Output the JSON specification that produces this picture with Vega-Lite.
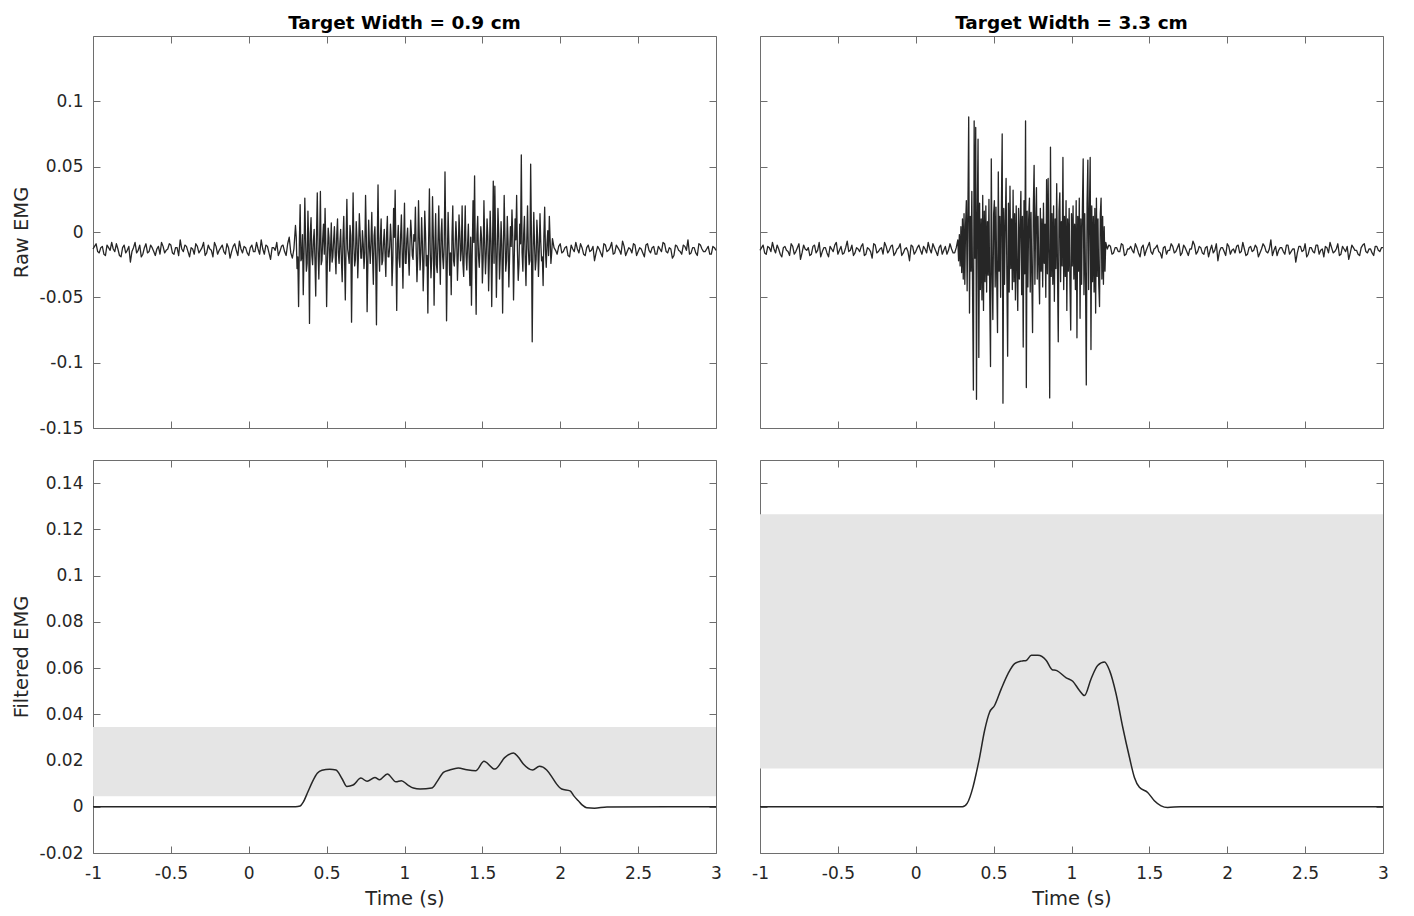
{
"$schema": "https://vega.github.io/schema/vega-lite/v6.json",
"background": "white",
"padding": {"left": 10, "top": 13, "right": 30, "bottom": 5},
"config": {
  "font": "DejaVu Sans",
  "view": {"stroke": "#6e6e6e", "strokeWidth": 1},
  "axis": {"domain": false, "grid": false, "ticks": true, "tickSize": -7, "tickColor": "#6e6e6e", "tickWidth": 1, "labelFont": "DejaVu Sans", "labelFontSize": 17, "labelColor": "#262626", "labelFlush": false, "labelOverlap": false, "titleFont": "DejaVu Sans", "titleFontSize": 19.5, "titleFontWeight": "normal", "titleColor": "#262626", "zindex": 1},
  "title": {"font": "DejaVu Sans", "fontSize": 18.5, "fontWeight": "bold", "color": "#000000", "offset": 3, "frame": "group", "anchor": "middle"}
},
"datasets": {
"ax": [{"t": 0, "v": 0}],
"bandL": [{"x1": -1, "x2": 3, "lo": 0.0045, "hi": 0.0345}],
"bandR": [{"x1": -1, "x2": 3, "lo": 0.0165, "hi": 0.1265}],
"filtL": [{"t":-1,"v":0},{"t":0.3,"v":0},{"t":0.33,"v":0.0003},{"t":0.35,"v":0.002},{"t":0.38,"v":0.0065},{"t":0.41,"v":0.011},{"t":0.44,"v":0.0145},{"t":0.47,"v":0.0158},{"t":0.52,"v":0.0162},{"t":0.56,"v":0.0159},{"t":0.6,"v":0.012},{"t":0.63,"v":0.0088},{"t":0.67,"v":0.0094},{"t":0.72,"v":0.0124},{"t":0.76,"v":0.011},{"t":0.81,"v":0.0127},{"t":0.84,"v":0.0117},{"t":0.89,"v":0.0142},{"t":0.945,"v":0.0108},{"t":0.98,"v":0.0113},{"t":1.02,"v":0.0095},{"t":1.057,"v":0.0081},{"t":1.1,"v":0.0077},{"t":1.175,"v":0.0081},{"t":1.21,"v":0.011},{"t":1.25,"v":0.0149},{"t":1.29,"v":0.0159},{"t":1.345,"v":0.0168},{"t":1.4,"v":0.016},{"t":1.459,"v":0.0156},{"t":1.51,"v":0.0197},{"t":1.58,"v":0.0163},{"t":1.645,"v":0.0214},{"t":1.7,"v":0.0233},{"t":1.73,"v":0.0215},{"t":1.763,"v":0.0185},{"t":1.823,"v":0.0159},{"t":1.866,"v":0.0175},{"t":1.913,"v":0.0159},{"t":1.95,"v":0.0125},{"t":1.977,"v":0.0098},{"t":2.009,"v":0.0077},{"t":2.063,"v":0.0069},{"t":2.09,"v":0.0045},{"t":2.116,"v":0.0026},{"t":2.14,"v":0.0008},{"t":2.17,"v":-0.0004},{"t":2.22,"v":-0.0006},{"t":2.3,"v":-0.0001},{"t":3,"v":0}],
"filtR": [{"t":-1,"v":0},{"t":0.3,"v":0},{"t":0.33,"v":0.0015},{"t":0.367,"v":0.0084},{"t":0.39,"v":0.015},{"t":0.41,"v":0.0214},{"t":0.442,"v":0.033},{"t":0.474,"v":0.0409},{"t":0.506,"v":0.0438},{"t":0.549,"v":0.051},{"t":0.592,"v":0.0575},{"t":0.635,"v":0.0619},{"t":0.678,"v":0.063},{"t":0.71,"v":0.0633},{"t":0.742,"v":0.0655},{"t":0.784,"v":0.0655},{"t":0.838,"v":0.0633},{"t":0.876,"v":0.0593},{"t":0.902,"v":0.059},{"t":0.966,"v":0.0558},{"t":1.008,"v":0.0543},{"t":1.051,"v":0.0503},{"t":1.083,"v":0.0481},{"t":1.126,"v":0.0554},{"t":1.168,"v":0.0611},{"t":1.212,"v":0.0626},{"t":1.244,"v":0.059},{"t":1.286,"v":0.0489},{"t":1.329,"v":0.0344},{"t":1.372,"v":0.0214},{"t":1.404,"v":0.0127},{"t":1.436,"v":0.0084},{"t":1.489,"v":0.0062},{"t":1.532,"v":0.0026},{"t":1.575,"v":0.0004},{"t":1.617,"v":-0.0003},{"t":1.7,"v":0},{"t":3,"v":0}],
"rawL": [
{"t":-1,"v":-0.013},{"t":-0.98,"v":-0.009},{"t":-0.96,"v":-0.016},{"t":-0.94,"v":-0.011},{"t":-0.92,"v":-0.018},{"t":-0.9,"v":-0.012},{"t":-0.88,"v":-0.008},{"t":-0.86,"v":-0.015},{"t":-0.84,"v":-0.013},{"t":-0.82,"v":-0.019},
{"t":-0.8,"v":-0.01},{"t":-0.78,"v":-0.014},{"t":-0.76,"v":-0.023},{"t":-0.74,"v":-0.012},{"t":-0.72,"v":-0.016},{"t":-0.7,"v":-0.01},{"t":-0.68,"v":-0.017},{"t":-0.66,"v":-0.009},{"t":-0.64,"v":-0.015},{"t":-0.62,"v":-0.012},
{"t":-0.6,"v":-0.018},{"t":-0.58,"v":-0.011},{"t":-0.56,"v":-0.008},{"t":-0.54,"v":-0.016},{"t":-0.52,"v":-0.013},{"t":-0.5,"v":-0.01},{"t":-0.48,"v":-0.017},{"t":-0.46,"v":-0.012},{"t":-0.44,"v":-0.006},{"t":-0.42,"v":-0.015},
{"t":-0.4,"v":-0.011},{"t":-0.38,"v":-0.019},{"t":-0.36,"v":-0.013},{"t":-0.34,"v":-0.009},{"t":-0.32,"v":-0.016},{"t":-0.3,"v":-0.012},{"t":-0.28,"v":-0.018},{"t":-0.26,"v":-0.01},{"t":-0.24,"v":-0.014},{"t":-0.22,"v":-0.008},
{"t":-0.2,"v":-0.017},{"t":-0.18,"v":-0.012},{"t":-0.16,"v":-0.015},{"t":-0.14,"v":-0.009},{"t":-0.12,"v":-0.02},{"t":-0.1,"v":-0.011},{"t":-0.08,"v":-0.014},{"t":-0.06,"v":-0.007},{"t":-0.04,"v":-0.016},{"t":-0.02,"v":-0.012},
{"t":0,"v":-0.018},{"t":0.02,"v":-0.01},{"t":0.04,"v":-0.015},{"t":0.06,"v":-0.013},{"t":0.08,"v":-0.006},{"t":0.1,"v":-0.017},{"t":0.12,"v":-0.011},{"t":0.14,"v":-0.021},{"t":0.16,"v":-0.012},{"t":0.18,"v":-0.008},
{"t":0.2,"v":-0.015},{"t":0.22,"v":-0.01},{"t":0.24,"v":-0.018},{"t":0.26,"v":-0.004},{"t":0.28,"v":-0.02},
{"t":0.3,"v":0.005},{"t":0.31,"v":-0.028},{"t":0.32,"v":-0.057},{"t":0.33,"v":0.021},{"t":0.34,"v":-0.02},{"t":0.35,"v":-0.048},{"t":0.36,"v":0.026},{"t":0.37,"v":-0.03},{"t":0.38,"v":0.016},{"t":0.39,"v":-0.07},
{"t":0.4,"v":0.011},{"t":0.41,"v":-0.025},{"t":0.42,"v":0.002},{"t":0.43,"v":-0.049},{"t":0.44,"v":0.03},{"t":0.45,"v":-0.036},{"t":0.46,"v":0.031},{"t":0.47,"v":-0.022},{"t":0.48,"v":0.006},{"t":0.49,"v":0.018},
{"t":0.5,"v":-0.057},{"t":0.51,"v":0.003},{"t":0.52,"v":-0.03},{"t":0.53,"v":0.007},{"t":0.54,"v":-0.019},{"t":0.55,"v":0.004},{"t":0.56,"v":-0.032},{"t":0.57,"v":0.01},{"t":0.58,"v":-0.024},{"t":0.59,"v":0.002},
{"t":0.6,"v":-0.038},{"t":0.61,"v":0.012},{"t":0.62,"v":-0.052},{"t":0.63,"v":0.025},{"t":0.64,"v":-0.018},{"t":0.65,"v":0.005},{"t":0.66,"v":-0.069},{"t":0.67,"v":0.03},{"t":0.68,"v":-0.026},{"t":0.69,"v":0.008},
{"t":0.7,"v":-0.035},{"t":0.71,"v":0.014},{"t":0.72,"v":-0.02},{"t":0.73,"v":0.001},{"t":0.74,"v":-0.028},{"t":0.75,"v":0.028},{"t":0.76,"v":-0.061},{"t":0.77,"v":0.009},{"t":0.78,"v":-0.024},{"t":0.79,"v":0.015},
{"t":0.8,"v":-0.04},{"t":0.81,"v":0.004},{"t":0.82,"v":-0.071},{"t":0.83,"v":0.036},{"t":0.84,"v":-0.03},{"t":0.85,"v":0.01},{"t":0.86,"v":-0.022},{"t":0.87,"v":0.002},{"t":0.88,"v":-0.034},{"t":0.89,"v":0.012},
{"t":0.9,"v":-0.019},{"t":0.91,"v":0.006},{"t":0.92,"v":-0.041},{"t":0.93,"v":0.018},{"t":0.94,"v":0.032},{"t":0.95,"v":-0.06},{"t":0.96,"v":0.005},{"t":0.97,"v":-0.027},{"t":0.98,"v":0.013},{"t":0.99,"v":-0.043},
{"t":1,"v":0.022},{"t":1.01,"v":-0.024},{"t":1.02,"v":0.003},{"t":1.03,"v":-0.033},{"t":1.04,"v":0.009},{"t":1.05,"v":-0.018},{"t":1.06,"v":-0.002},{"t":1.07,"v":0.019},{"t":1.08,"v":-0.038},{"t":1.09,"v":0.024},
{"t":1.1,"v":-0.029},{"t":1.11,"v":0.011},{"t":1.12,"v":-0.045},{"t":1.13,"v":0.016},{"t":1.14,"v":-0.026},{"t":1.15,"v":-0.062},{"t":1.16,"v":0.033},{"t":1.17,"v":-0.035},{"t":1.18,"v":0.027},{"t":1.19,"v":-0.056},
{"t":1.2,"v":0.014},{"t":1.21,"v":-0.031},{"t":1.22,"v":0.02},{"t":1.23,"v":-0.04},{"t":1.24,"v":0.01},{"t":1.25,"v":-0.028},{"t":1.26,"v":0.046},{"t":1.27,"v":-0.068},{"t":1.28,"v":0.015},{"t":1.29,"v":-0.033},
{"t":1.3,"v":-0.048},{"t":1.31,"v":0.02},{"t":1.32,"v":-0.026},{"t":1.33,"v":0.008},{"t":1.34,"v":-0.037},{"t":1.35,"v":0.013},{"t":1.36,"v":-0.022},{"t":1.37,"v":0.02},{"t":1.38,"v":-0.034},{"t":1.39,"v":0.02},
{"t":1.4,"v":-0.029},{"t":1.41,"v":0.006},{"t":1.42,"v":-0.041},{"t":1.43,"v":-0.056},{"t":1.44,"v":0.024},{"t":1.45,"v":0.043},{"t":1.46,"v":-0.063},{"t":1.47,"v":0.012},{"t":1.48,"v":-0.027},{"t":1.49,"v":0.004},
{"t":1.5,"v":-0.039},{"t":1.51,"v":0.024},{"t":1.52,"v":-0.032},{"t":1.53,"v":0.01},{"t":1.54,"v":-0.045},{"t":1.55,"v":0.016},{"t":1.56,"v":-0.057},{"t":1.57,"v":0.039},{"t":1.58,"v":0.035},{"t":1.59,"v":-0.05},
{"t":1.6,"v":0.018},{"t":1.61,"v":-0.036},{"t":1.62,"v":0.008},{"t":1.63,"v":-0.062},{"t":1.64,"v":0.028},{"t":1.65,"v":-0.03},{"t":1.66,"v":0.012},{"t":1.67,"v":-0.042},{"t":1.68,"v":0.004},{"t":1.69,"v":0.017},
{"t":1.7,"v":-0.052},{"t":1.71,"v":0.01},{"t":1.72,"v":0.028},{"t":1.73,"v":-0.037},{"t":1.74,"v":0.006},{"t":1.75,"v":0.059},{"t":1.76,"v":-0.03},{"t":1.77,"v":0.012},{"t":1.78,"v":-0.041},{"t":1.79,"v":0.02},
{"t":1.8,"v":-0.025},{"t":1.81,"v":0.052},{"t":1.82,"v":-0.084},{"t":1.83,"v":0.015},{"t":1.84,"v":-0.029},{"t":1.85,"v":0.009},{"t":1.86,"v":-0.034},{"t":1.87,"v":0.014},{"t":1.88,"v":-0.022},{"t":1.89,"v":-0.041},
{"t":1.9,"v":0.019},{"t":1.91,"v":-0.027},{"t":1.92,"v":0.001},{"t":1.93,"v":0.012},{"t":1.94,"v":-0.024},{"t":1.95,"v":-0.005},
{"t":1.96,"v":-0.012},{"t":1.98,"v":-0.017},{"t":2,"v":-0.009},{"t":2.02,"v":-0.015},{"t":2.04,"v":-0.011},{"t":2.06,"v":-0.019},{"t":2.08,"v":-0.013},{"t":2.1,"v":-0.008},{"t":2.12,"v":-0.016},{"t":2.14,"v":-0.012},
{"t":2.16,"v":-0.018},{"t":2.18,"v":-0.01},{"t":2.2,"v":-0.014},{"t":2.22,"v":-0.022},{"t":2.24,"v":-0.011},{"t":2.26,"v":-0.016},{"t":2.28,"v":-0.009},{"t":2.3,"v":-0.015},{"t":2.32,"v":-0.012},{"t":2.34,"v":-0.017},
{"t":2.36,"v":-0.01},{"t":2.38,"v":-0.014},{"t":2.4,"v":-0.007},{"t":2.42,"v":-0.018},{"t":2.44,"v":-0.012},{"t":2.46,"v":-0.016},{"t":2.48,"v":-0.01},{"t":2.5,"v":-0.015},{"t":2.52,"v":-0.013},{"t":2.54,"v":-0.019},
{"t":2.56,"v":-0.009},{"t":2.58,"v":-0.016},{"t":2.6,"v":-0.011},{"t":2.62,"v":-0.017},{"t":2.64,"v":-0.013},{"t":2.66,"v":-0.008},{"t":2.68,"v":-0.015},{"t":2.7,"v":-0.012},{"t":2.72,"v":-0.02},{"t":2.74,"v":-0.01},
{"t":2.76,"v":-0.014},{"t":2.78,"v":-0.017},{"t":2.8,"v":-0.011},{"t":2.82,"v":-0.006},{"t":2.84,"v":-0.016},{"t":2.86,"v":-0.012},{"t":2.88,"v":-0.018},{"t":2.9,"v":-0.01},{"t":2.92,"v":-0.015},{"t":2.94,"v":-0.013},
{"t":2.96,"v":-0.017},{"t":2.98,"v":-0.011},{"t":3,"v":-0.014},
{"t":-0.99,"v":-0.011},{"t":-0.97,"v":-0.015},{"t":-0.95,"v":-0.012},{"t":-0.93,"v":-0.017},{"t":-0.91,"v":-0.01},{"t":-0.89,"v":-0.014},{"t":-0.87,"v":-0.013},{"t":-0.85,"v":-0.009},{"t":-0.83,"v":-0.018},{"t":-0.81,"v":-0.012},
{"t":-0.79,"v":-0.016},{"t":-0.77,"v":-0.011},{"t":-0.75,"v":-0.015},{"t":-0.73,"v":-0.008},{"t":-0.71,"v":-0.014},{"t":-0.69,"v":-0.019},{"t":-0.67,"v":-0.012},{"t":-0.65,"v":-0.016},{"t":-0.63,"v":-0.01},{"t":-0.61,"v":-0.015},
{"t":-0.59,"v":-0.013},{"t":-0.57,"v":-0.017},{"t":-0.55,"v":-0.011},{"t":-0.53,"v":-0.014},{"t":-0.51,"v":-0.009},{"t":-0.49,"v":-0.016},{"t":-0.47,"v":-0.012},{"t":-0.45,"v":-0.018},{"t":-0.43,"v":-0.013},{"t":-0.41,"v":-0.01},
{"t":-0.39,"v":-0.015},{"t":-0.37,"v":-0.012},{"t":-0.35,"v":-0.017},{"t":-0.33,"v":-0.011},{"t":-0.31,"v":-0.014},{"t":-0.29,"v":-0.008},{"t":-0.27,"v":-0.016},{"t":-0.25,"v":-0.013},{"t":-0.23,"v":-0.019},{"t":-0.21,"v":-0.011},
{"t":-0.19,"v":-0.014},{"t":-0.17,"v":-0.01},{"t":-0.15,"v":-0.017},{"t":-0.13,"v":-0.012},{"t":-0.11,"v":-0.015},{"t":-0.09,"v":-0.009},{"t":-0.07,"v":-0.018},{"t":-0.05,"v":-0.013},{"t":-0.03,"v":-0.011},{"t":-0.01,"v":-0.016},
{"t":0.01,"v":-0.012},{"t":0.03,"v":-0.015},{"t":0.05,"v":-0.008},{"t":0.07,"v":-0.017},{"t":0.09,"v":-0.013},{"t":0.11,"v":-0.01},{"t":0.13,"v":-0.016},{"t":0.15,"v":-0.012},{"t":0.17,"v":-0.014},{"t":0.19,"v":-0.018},
{"t":0.21,"v":-0.011},{"t":0.23,"v":-0.015},{"t":0.25,"v":-0.009},{"t":0.27,"v":-0.016},{"t":0.29,"v":-0.013},
{"t":0.305,"v":-0.004},{"t":0.315,"v":-0.019},{"t":0.325,"v":-0.008},{"t":0.335,"v":-0.022},{"t":0.345,"v":-0.002},{"t":0.355,"v":-0.016},{"t":0.365,"v":-0.006},{"t":0.375,"v":-0.024},{"t":0.385,"v":-0.01},{"t":0.395,"v":-0.001},
{"t":0.405,"v":-0.018},{"t":0.415,"v":-0.007},{"t":0.425,"v":-0.021},{"t":0.435,"v":-0.003},{"t":0.445,"v":-0.015},{"t":0.455,"v":-0.009},{"t":0.465,"v":-0.025},{"t":0.475,"v":-0.005},{"t":0.485,"v":-0.017},{"t":0.495,"v":-0.011},
{"t":0.505,"v":-0.02},{"t":0.515,"v":-0.004},{"t":0.525,"v":-0.014},{"t":0.535,"v":-0.023},{"t":0.545,"v":-0.006},{"t":0.555,"v":-0.018},{"t":0.565,"v":-0.002},{"t":0.575,"v":-0.016},{"t":0.585,"v":-0.009},{"t":0.595,"v":-0.022},
{"t":0.605,"v":-0.005},{"t":0.615,"v":-0.019},{"t":0.625,"v":-0.008},{"t":0.635,"v":-0.013},{"t":0.645,"v":-0.024},{"t":0.655,"v":-0.003},{"t":0.665,"v":-0.017},{"t":0.675,"v":-0.01},{"t":0.685,"v":-0.021},{"t":0.695,"v":-0.006},
{"t":0.705,"v":-0.015},{"t":0.715,"v":-0.001},{"t":0.725,"v":-0.02},{"t":0.735,"v":-0.009},{"t":0.745,"v":-0.016},{"t":0.755,"v":-0.004},{"t":0.765,"v":-0.023},{"t":0.775,"v":-0.011},{"t":0.785,"v":-0.007},{"t":0.795,"v":-0.018},
{"t":0.805,"v":-0.003},{"t":0.815,"v":-0.021},{"t":0.825,"v":-0.01},{"t":0.835,"v":-0.014},{"t":0.845,"v":-0.005},{"t":0.855,"v":-0.025},{"t":0.865,"v":-0.008},{"t":0.875,"v":-0.017},{"t":0.885,"v":-0.002},{"t":0.895,"v":-0.019},
{"t":0.905,"v":-0.011},{"t":0.915,"v":-0.006},{"t":0.925,"v":-0.022},{"t":0.935,"v":-0.004},{"t":0.945,"v":-0.016},{"t":0.955,"v":-0.009},{"t":0.965,"v":-0.02},{"t":0.975,"v":-0.003},{"t":0.985,"v":-0.015},{"t":0.995,"v":-0.008},
{"t":1.005,"v":-0.024},{"t":1.015,"v":-0.005},{"t":1.025,"v":-0.017},{"t":1.035,"v":-0.01},{"t":1.045,"v":-0.002},{"t":1.055,"v":-0.021},{"t":1.065,"v":-0.007},{"t":1.075,"v":-0.013},{"t":1.085,"v":-0.019},{"t":1.095,"v":-0.004},
{"t":1.105,"v":-0.016},{"t":1.115,"v":-0.009},{"t":1.125,"v":-0.023},{"t":1.135,"v":-0.001},{"t":1.145,"v":-0.018},{"t":1.155,"v":-0.006},{"t":1.165,"v":-0.014},{"t":1.175,"v":-0.02},{"t":1.185,"v":-0.003},{"t":1.195,"v":-0.012},
{"t":1.205,"v":-0.025},{"t":1.215,"v":-0.007},{"t":1.225,"v":-0.015},{"t":1.235,"v":-0.002},{"t":1.245,"v":-0.019},{"t":1.255,"v":-0.01},{"t":1.265,"v":-0.005},{"t":1.275,"v":-0.021},{"t":1.285,"v":-0.008},{"t":1.295,"v":-0.016},
{"t":1.305,"v":-0.003},{"t":1.315,"v":-0.022},{"t":1.325,"v":-0.011},{"t":1.335,"v":-0.006},{"t":1.345,"v":-0.018},{"t":1.355,"v":-0.001},{"t":1.365,"v":-0.014},{"t":1.375,"v":-0.024},{"t":1.385,"v":-0.007},{"t":1.395,"v":-0.017},
{"t":1.405,"v":-0.01},{"t":1.415,"v":-0.02},{"t":1.425,"v":-0.004},{"t":1.435,"v":-0.015},{"t":1.445,"v":-0.008},{"t":1.455,"v":-0.023},{"t":1.465,"v":-0.002},{"t":1.475,"v":-0.018},{"t":1.485,"v":-0.012},{"t":1.495,"v":-0.005},
{"t":1.505,"v":-0.021},{"t":1.515,"v":-0.009},{"t":1.525,"v":-0.016},{"t":1.535,"v":-0.003},{"t":1.545,"v":-0.019},{"t":1.555,"v":-0.007},{"t":1.565,"v":-0.013},{"t":1.575,"v":-0.024},{"t":1.585,"v":-0.006},{"t":1.595,"v":-0.017},
{"t":1.605,"v":-0.001},{"t":1.615,"v":-0.02},{"t":1.625,"v":-0.01},{"t":1.635,"v":-0.015},{"t":1.645,"v":-0.004},{"t":1.655,"v":-0.022},{"t":1.665,"v":-0.008},{"t":1.675,"v":-0.018},{"t":1.685,"v":-0.011},{"t":1.695,"v":-0.003},
{"t":1.705,"v":-0.019},{"t":1.715,"v":-0.006},{"t":1.725,"v":-0.014},{"t":1.735,"v":-0.025},{"t":1.745,"v":-0.009},{"t":1.755,"v":-0.016},{"t":1.765,"v":-0.002},{"t":1.775,"v":-0.02},{"t":1.785,"v":-0.007},{"t":1.795,"v":-0.013},
{"t":1.805,"v":-0.022},{"t":1.815,"v":-0.004},{"t":1.825,"v":-0.017},{"t":1.835,"v":-0.01},{"t":1.845,"v":-0.021},{"t":1.855,"v":-0.005},{"t":1.865,"v":-0.015},{"t":1.875,"v":-0.008},{"t":1.885,"v":-0.019},{"t":1.895,"v":-0.003},
{"t":1.905,"v":-0.014},{"t":1.915,"v":-0.009},{"t":1.925,"v":-0.018},{"t":1.935,"v":-0.006},{"t":1.945,"v":-0.016},
{"t":1.97,"v":-0.014},{"t":1.99,"v":-0.011},{"t":2.01,"v":-0.016},{"t":2.03,"v":-0.012},{"t":2.05,"v":-0.018},{"t":2.07,"v":-0.01},{"t":2.09,"v":-0.015},{"t":2.11,"v":-0.013},{"t":2.13,"v":-0.009},{"t":2.15,"v":-0.017},
{"t":2.17,"v":-0.012},{"t":2.19,"v":-0.015},{"t":2.21,"v":-0.011},{"t":2.23,"v":-0.016},{"t":2.25,"v":-0.013},{"t":2.27,"v":-0.019},{"t":2.29,"v":-0.01},{"t":2.31,"v":-0.014},{"t":2.33,"v":-0.008},{"t":2.35,"v":-0.016},
{"t":2.37,"v":-0.012},{"t":2.39,"v":-0.017},{"t":2.41,"v":-0.011},{"t":2.43,"v":-0.015},{"t":2.45,"v":-0.013},{"t":2.47,"v":-0.009},{"t":2.49,"v":-0.018},{"t":2.51,"v":-0.012},{"t":2.53,"v":-0.016},{"t":2.55,"v":-0.01},
{"t":2.57,"v":-0.014},{"t":2.59,"v":-0.012},{"t":2.61,"v":-0.017},{"t":2.63,"v":-0.011},{"t":2.65,"v":-0.015},{"t":2.67,"v":-0.009},{"t":2.69,"v":-0.016},{"t":2.71,"v":-0.013},{"t":2.73,"v":-0.018},{"t":2.75,"v":-0.011},
{"t":2.77,"v":-0.015},{"t":2.79,"v":-0.01},{"t":2.81,"v":-0.014},{"t":2.83,"v":-0.017},{"t":2.85,"v":-0.012},{"t":2.87,"v":-0.016},{"t":2.89,"v":-0.009},{"t":2.91,"v":-0.013},{"t":2.93,"v":-0.015},{"t":2.95,"v":-0.011},
{"t":2.97,"v":-0.017},{"t":2.99,"v":-0.012}
],
"rawR": [
{"t":-1,"v":-0.014},{"t":-0.98,"v":-0.01},{"t":-0.96,"v":-0.017},{"t":-0.94,"v":-0.012},{"t":-0.92,"v":-0.008},{"t":-0.9,"v":-0.016},{"t":-0.88,"v":-0.013},{"t":-0.86,"v":-0.019},{"t":-0.84,"v":-0.011},{"t":-0.82,"v":-0.015},
{"t":-0.8,"v":-0.009},{"t":-0.78,"v":-0.017},{"t":-0.76,"v":-0.012},{"t":-0.74,"v":-0.021},{"t":-0.72,"v":-0.01},{"t":-0.7,"v":-0.014},{"t":-0.68,"v":-0.018},{"t":-0.66,"v":-0.011},{"t":-0.64,"v":-0.016},{"t":-0.62,"v":-0.008},
{"t":-0.6,"v":-0.015},{"t":-0.58,"v":-0.012},{"t":-0.56,"v":-0.019},{"t":-0.54,"v":-0.013},{"t":-0.52,"v":-0.01},{"t":-0.5,"v":-0.017},{"t":-0.48,"v":-0.011},{"t":-0.46,"v":-0.016},{"t":-0.44,"v":-0.007},{"t":-0.42,"v":-0.014},
{"t":-0.4,"v":-0.018},{"t":-0.38,"v":-0.012},{"t":-0.36,"v":-0.015},{"t":-0.34,"v":-0.009},{"t":-0.32,"v":-0.017},{"t":-0.3,"v":-0.013},{"t":-0.28,"v":-0.02},{"t":-0.26,"v":-0.01},{"t":-0.24,"v":-0.015},{"t":-0.22,"v":-0.012},
{"t":-0.2,"v":-0.008},{"t":-0.18,"v":-0.016},{"t":-0.16,"v":-0.011},{"t":-0.14,"v":-0.018},{"t":-0.12,"v":-0.013},{"t":-0.1,"v":-0.009},{"t":-0.08,"v":-0.016},{"t":-0.06,"v":-0.012},{"t":-0.04,"v":-0.022},{"t":-0.02,"v":-0.011},
{"t":0,"v":-0.015},{"t":0.02,"v":-0.01},{"t":0.04,"v":-0.017},{"t":0.06,"v":-0.013},{"t":0.08,"v":-0.008},{"t":0.1,"v":-0.016},{"t":0.12,"v":-0.012},{"t":0.14,"v":-0.018},{"t":0.16,"v":-0.01},{"t":0.18,"v":-0.014},
{"t":0.2,"v":-0.017},{"t":0.22,"v":-0.009},{"t":0.24,"v":-0.016},{"t":0.26,"v":-0.012},
{"t":0.27,"v":-0.006},{"t":0.275,"v":-0.022},{"t":0.28,"v":-0.002},{"t":0.285,"v":-0.026},{"t":0.29,"v":0.004},{"t":0.295,"v":-0.031},{"t":0.3,"v":0.01},{"t":0.305,"v":-0.036},{"t":0.31,"v":0.014},{"t":0.315,"v":-0.04},
{"t":0.32,"v":0.006},{"t":0.325,"v":0.024},{"t":0.33,"v":-0.045},{"t":0.335,"v":0.018},{"t":0.34,"v":0.088},{"t":0.345,"v":-0.062},{"t":0.35,"v":0.012},{"t":0.355,"v":-0.03},{"t":0.36,"v":0.031},{"t":0.365,"v":-0.048},
{"t":0.37,"v":-0.121},{"t":0.375,"v":0.085},{"t":0.38,"v":-0.02},{"t":0.385,"v":0.08},{"t":0.39,"v":-0.128},{"t":0.395,"v":0.015},{"t":0.4,"v":0.071},{"t":0.405,"v":-0.096},{"t":0.41,"v":0.022},{"t":0.415,"v":-0.044},
{"t":0.42,"v":0.01},{"t":0.425,"v":-0.052},{"t":0.43,"v":0.028},{"t":0.435,"v":-0.06},{"t":0.44,"v":0.016},{"t":0.445,"v":-0.038},{"t":0.45,"v":0.02},{"t":0.455,"v":-0.046},{"t":0.46,"v":0.008},{"t":0.465,"v":-0.033},
{"t":0.47,"v":0.025},{"t":0.475,"v":-0.05},{"t":0.48,"v":-0.103},{"t":0.485,"v":0.056},{"t":0.49,"v":-0.028},{"t":0.495,"v":-0.067},{"t":0.5,"v":0.014},{"t":0.505,"v":0.024},{"t":0.51,"v":-0.042},{"t":0.515,"v":0.019},
{"t":0.52,"v":-0.036},{"t":0.525,"v":-0.077},{"t":0.53,"v":0.046},{"t":0.535,"v":-0.03},{"t":0.54,"v":0.012},{"t":0.545,"v":-0.05},{"t":0.55,"v":0.02},{"t":0.555,"v":0.075},{"t":0.56,"v":-0.131},{"t":0.565,"v":0.018},
{"t":0.57,"v":-0.04},{"t":0.575,"v":0.009},{"t":0.58,"v":0.041},{"t":0.585,"v":-0.034},{"t":0.59,"v":-0.095},{"t":0.595,"v":0.022},{"t":0.6,"v":-0.046},{"t":0.605,"v":0.035},{"t":0.61,"v":-0.028},{"t":0.615,"v":0.01},
{"t":0.62,"v":-0.044},{"t":0.625,"v":0.032},{"t":0.63,"v":-0.038},{"t":0.635,"v":0.014},{"t":0.64,"v":-0.052},{"t":0.645,"v":0.02},{"t":0.65,"v":-0.03},{"t":0.655,"v":-0.06},{"t":0.66,"v":0.018},{"t":0.665,"v":-0.036},
{"t":0.67,"v":0.006},{"t":0.675,"v":0.031},{"t":0.68,"v":-0.048},{"t":0.685,"v":0.012},{"t":0.69,"v":-0.088},{"t":0.695,"v":0.024},{"t":0.7,"v":-0.032},{"t":0.705,"v":0.085},{"t":0.71,"v":-0.119},{"t":0.715,"v":0.016},
{"t":0.72,"v":-0.042},{"t":0.725,"v":0.01},{"t":0.73,"v":0.026},{"t":0.735,"v":-0.046},{"t":0.74,"v":0.015},{"t":0.745,"v":-0.034},{"t":0.75,"v":-0.077},{"t":0.755,"v":0.02},{"t":0.76,"v":0.051},{"t":0.765,"v":-0.04},
{"t":0.77,"v":0.008},{"t":0.775,"v":0.034},{"t":0.78,"v":-0.036},{"t":0.785,"v":0.012},{"t":0.79,"v":-0.028},{"t":0.795,"v":-0.055},{"t":0.8,"v":0.018},{"t":0.805,"v":-0.03},{"t":0.81,"v":0.01},{"t":0.815,"v":-0.042},
{"t":0.82,"v":0.022},{"t":0.825,"v":-0.024},{"t":0.83,"v":0.006},{"t":0.835,"v":-0.05},{"t":0.84,"v":0.04},{"t":0.845,"v":-0.032},{"t":0.85,"v":0.041},{"t":0.855,"v":-0.02},{"t":0.86,"v":-0.127},{"t":0.865,"v":0.065},
{"t":0.87,"v":-0.034},{"t":0.875,"v":0.014},{"t":0.88,"v":-0.04},{"t":0.885,"v":0.02},{"t":0.89,"v":-0.053},{"t":0.895,"v":0.01},{"t":0.9,"v":-0.028},{"t":0.905,"v":0.037},{"t":0.91,"v":-0.03},{"t":0.915,"v":-0.084},
{"t":0.92,"v":0.016},{"t":0.925,"v":0.03},{"t":0.93,"v":-0.038},{"t":0.935,"v":0.008},{"t":0.94,"v":-0.026},{"t":0.945,"v":0.057},{"t":0.95,"v":-0.044},{"t":0.955,"v":0.012},{"t":0.96,"v":-0.034},{"t":0.965,"v":0.024},
{"t":0.97,"v":-0.06},{"t":0.975,"v":0.01},{"t":0.98,"v":-0.03},{"t":0.985,"v":0.018},{"t":0.99,"v":-0.04},{"t":0.995,"v":-0.075},{"t":1,"v":0.014},{"t":1.005,"v":-0.026},{"t":1.01,"v":0.02},{"t":1.015,"v":-0.036},
{"t":1.02,"v":0.006},{"t":1.025,"v":-0.044},{"t":1.03,"v":0.024},{"t":1.035,"v":-0.081},{"t":1.04,"v":0.012},{"t":1.045,"v":-0.03},{"t":1.05,"v":0.026},{"t":1.055,"v":-0.066},{"t":1.06,"v":0.01},{"t":1.065,"v":-0.04},
{"t":1.07,"v":0.018},{"t":1.075,"v":0.056},{"t":1.08,"v":-0.048},{"t":1.085,"v":0.014},{"t":1.09,"v":-0.036},{"t":1.095,"v":-0.117},{"t":1.1,"v":0.022},{"t":1.105,"v":0.055},{"t":1.11,"v":-0.044},{"t":1.115,"v":0.016},
{"t":1.12,"v":0.057},{"t":1.125,"v":-0.09},{"t":1.13,"v":0.02},{"t":1.135,"v":-0.038},{"t":1.14,"v":0.012},{"t":1.145,"v":-0.046},{"t":1.15,"v":0.018},{"t":1.155,"v":-0.062},{"t":1.16,"v":0.026},{"t":1.165,"v":-0.034},
{"t":1.17,"v":0.01},{"t":1.175,"v":-0.04},{"t":1.18,"v":-0.057},{"t":1.185,"v":0.014},{"t":1.19,"v":0.026},{"t":1.195,"v":-0.036},{"t":1.2,"v":0.012},{"t":1.205,"v":-0.04},{"t":1.21,"v":0.004},{"t":1.215,"v":-0.03},
{"t":1.22,"v":-0.008},
{"t":1.24,"v":-0.01},{"t":1.26,"v":-0.017},{"t":1.28,"v":-0.012},{"t":1.3,"v":-0.015},{"t":1.32,"v":-0.009},{"t":1.34,"v":-0.018},{"t":1.36,"v":-0.013},{"t":1.38,"v":-0.011},{"t":1.4,"v":-0.016},{"t":1.42,"v":-0.012},
{"t":1.44,"v":-0.019},{"t":1.46,"v":-0.01},{"t":1.48,"v":-0.014},{"t":1.5,"v":-0.008},{"t":1.52,"v":-0.017},{"t":1.54,"v":-0.012},{"t":1.56,"v":-0.015},{"t":1.58,"v":-0.02},{"t":1.6,"v":-0.011},{"t":1.62,"v":-0.014},
{"t":1.64,"v":-0.009},{"t":1.66,"v":-0.016},{"t":1.68,"v":-0.012},{"t":1.7,"v":-0.018},{"t":1.72,"v":-0.01},{"t":1.74,"v":-0.015},{"t":1.76,"v":-0.013},{"t":1.78,"v":-0.007},{"t":1.8,"v":-0.017},{"t":1.82,"v":-0.011},
{"t":1.84,"v":-0.016},{"t":1.86,"v":-0.012},{"t":1.88,"v":-0.019},{"t":1.9,"v":-0.01},{"t":1.92,"v":-0.014},{"t":1.94,"v":-0.022},{"t":1.96,"v":-0.012},{"t":1.98,"v":-0.015},{"t":2,"v":-0.009},{"t":2.02,"v":-0.017},
{"t":2.04,"v":-0.013},{"t":2.06,"v":-0.011},{"t":2.08,"v":-0.016},{"t":2.1,"v":-0.008},{"t":2.12,"v":-0.018},{"t":2.14,"v":-0.012},{"t":2.16,"v":-0.015},{"t":2.18,"v":-0.01},{"t":2.2,"v":-0.019},{"t":2.22,"v":-0.013},
{"t":2.24,"v":-0.011},{"t":2.26,"v":-0.016},{"t":2.28,"v":-0.006},{"t":2.3,"v":-0.014},{"t":2.32,"v":-0.018},{"t":2.34,"v":-0.012},{"t":2.36,"v":-0.015},{"t":2.38,"v":-0.01},{"t":2.4,"v":-0.017},{"t":2.42,"v":-0.013},
{"t":2.44,"v":-0.023},{"t":2.46,"v":-0.011},{"t":2.48,"v":-0.015},{"t":2.5,"v":-0.009},{"t":2.52,"v":-0.017},{"t":2.54,"v":-0.012},{"t":2.56,"v":-0.016},{"t":2.58,"v":-0.01},{"t":2.6,"v":-0.014},{"t":2.62,"v":-0.019},
{"t":2.64,"v":-0.012},{"t":2.66,"v":-0.008},{"t":2.68,"v":-0.016},{"t":2.7,"v":-0.013},{"t":2.72,"v":-0.018},{"t":2.74,"v":-0.011},{"t":2.76,"v":-0.015},{"t":2.78,"v":-0.021},{"t":2.8,"v":-0.01},{"t":2.82,"v":-0.014},
{"t":2.84,"v":-0.017},{"t":2.86,"v":-0.012},{"t":2.88,"v":-0.009},{"t":2.9,"v":-0.016},{"t":2.92,"v":-0.013},{"t":2.94,"v":-0.018},{"t":2.96,"v":-0.011},{"t":2.98,"v":-0.015},{"t":3,"v":-0.012},
{"t":-0.99,"v":-0.012},{"t":-0.97,"v":-0.016},{"t":-0.95,"v":-0.011},{"t":-0.93,"v":-0.015},{"t":-0.91,"v":-0.013},{"t":-0.89,"v":-0.01},{"t":-0.87,"v":-0.017},{"t":-0.85,"v":-0.012},{"t":-0.83,"v":-0.014},{"t":-0.81,"v":-0.018},
{"t":-0.79,"v":-0.011},{"t":-0.77,"v":-0.015},{"t":-0.75,"v":-0.009},{"t":-0.73,"v":-0.016},{"t":-0.71,"v":-0.013},{"t":-0.69,"v":-0.012},{"t":-0.67,"v":-0.017},{"t":-0.65,"v":-0.01},{"t":-0.63,"v":-0.014},{"t":-0.61,"v":-0.019},
{"t":-0.59,"v":-0.012},{"t":-0.57,"v":-0.016},{"t":-0.55,"v":-0.011},{"t":-0.53,"v":-0.015},{"t":-0.51,"v":-0.008},{"t":-0.49,"v":-0.014},{"t":-0.47,"v":-0.017},{"t":-0.45,"v":-0.012},{"t":-0.43,"v":-0.015},{"t":-0.41,"v":-0.01},
{"t":-0.39,"v":-0.016},{"t":-0.37,"v":-0.013},{"t":-0.35,"v":-0.011},{"t":-0.33,"v":-0.018},{"t":-0.31,"v":-0.012},{"t":-0.29,"v":-0.015},{"t":-0.27,"v":-0.009},{"t":-0.25,"v":-0.016},{"t":-0.23,"v":-0.013},{"t":-0.21,"v":-0.017},
{"t":-0.19,"v":-0.011},{"t":-0.17,"v":-0.014},{"t":-0.15,"v":-0.01},{"t":-0.13,"v":-0.016},{"t":-0.11,"v":-0.012},{"t":-0.09,"v":-0.018},{"t":-0.07,"v":-0.013},{"t":-0.05,"v":-0.015},{"t":-0.03,"v":-0.01},{"t":-0.01,"v":-0.017},
{"t":0.01,"v":-0.012},{"t":0.03,"v":-0.014},{"t":0.05,"v":-0.011},{"t":0.07,"v":-0.016},{"t":0.09,"v":-0.013},{"t":0.11,"v":-0.009},{"t":0.13,"v":-0.015},{"t":0.15,"v":-0.012},{"t":0.17,"v":-0.017},{"t":0.19,"v":-0.011},
{"t":0.21,"v":-0.014},{"t":0.23,"v":-0.013},{"t":0.25,"v":-0.016},
{"t":1.23,"v":-0.013},{"t":1.25,"v":-0.011},{"t":1.27,"v":-0.016},{"t":1.29,"v":-0.012},{"t":1.31,"v":-0.015},{"t":1.33,"v":-0.01},{"t":1.35,"v":-0.017},{"t":1.37,"v":-0.013},{"t":1.39,"v":-0.014},{"t":1.41,"v":-0.009},
{"t":1.43,"v":-0.016},{"t":1.45,"v":-0.012},{"t":1.47,"v":-0.018},{"t":1.49,"v":-0.011},{"t":1.51,"v":-0.015},{"t":1.53,"v":-0.013},{"t":1.55,"v":-0.01},{"t":1.57,"v":-0.016},{"t":1.59,"v":-0.012},{"t":1.61,"v":-0.017},
{"t":1.63,"v":-0.014},{"t":1.65,"v":-0.011},{"t":1.67,"v":-0.015},{"t":1.69,"v":-0.009},{"t":1.71,"v":-0.016},{"t":1.73,"v":-0.012},{"t":1.75,"v":-0.018},{"t":1.77,"v":-0.013},{"t":1.79,"v":-0.01},{"t":1.81,"v":-0.015},
{"t":1.83,"v":-0.012},{"t":1.85,"v":-0.017},{"t":1.87,"v":-0.011},{"t":1.89,"v":-0.014},{"t":1.91,"v":-0.016},{"t":1.93,"v":-0.009},{"t":1.95,"v":-0.015},{"t":1.97,"v":-0.012},{"t":1.99,"v":-0.018},{"t":2.01,"v":-0.011},
{"t":2.03,"v":-0.014},{"t":2.05,"v":-0.016},{"t":2.07,"v":-0.01},{"t":2.09,"v":-0.015},{"t":2.11,"v":-0.013},{"t":2.13,"v":-0.017},{"t":2.15,"v":-0.011},{"t":2.17,"v":-0.014},{"t":2.19,"v":-0.012},{"t":2.21,"v":-0.016},
{"t":2.23,"v":-0.009},{"t":2.25,"v":-0.015},{"t":2.27,"v":-0.013},{"t":2.29,"v":-0.018},{"t":2.31,"v":-0.011},{"t":2.33,"v":-0.014},{"t":2.35,"v":-0.012},{"t":2.37,"v":-0.017},{"t":2.39,"v":-0.01},{"t":2.41,"v":-0.015},
{"t":2.43,"v":-0.013},{"t":2.45,"v":-0.016},{"t":2.47,"v":-0.011},{"t":2.49,"v":-0.014},{"t":2.51,"v":-0.019},{"t":2.53,"v":-0.012},{"t":2.55,"v":-0.015},{"t":2.57,"v":-0.01},{"t":2.59,"v":-0.017},{"t":2.61,"v":-0.013},
{"t":2.63,"v":-0.011},{"t":2.65,"v":-0.016},{"t":2.67,"v":-0.012},{"t":2.69,"v":-0.015},{"t":2.71,"v":-0.009},{"t":2.73,"v":-0.017},{"t":2.75,"v":-0.013},{"t":2.77,"v":-0.011},{"t":2.79,"v":-0.016},{"t":2.81,"v":-0.012},
{"t":2.83,"v":-0.014},{"t":2.85,"v":-0.018},{"t":2.87,"v":-0.01},{"t":2.89,"v":-0.015},{"t":2.91,"v":-0.013},{"t":2.93,"v":-0.016},{"t":2.95,"v":-0.011},{"t":2.97,"v":-0.014},{"t":2.99,"v":-0.012}
]
},
"columns": 2,
"spacing": {"row": 32, "column": 44},
"bounds": "flush",
"concat": [
{
 "width": 623, "height": 392,
 "title": "Target Width = 0.9 cm",
 "layer": [
  {"data": {"name": "rawL"}, "mark": {"type": "line", "color": "#262626", "strokeWidth": 1.3, "strokeJoin": "round"},
   "encoding": {
    "x": {"field": "t", "type": "quantitative", "scale": {"domain": [-1, 3], "nice": false, "zero": false}, "axis": {"orient": "bottom", "labels": false, "title": null, "values": [-1,-0.5,0,0.5,1,1.5,2,2.5,3]}},
    "y": {"field": "v", "type": "quantitative", "scale": {"domain": [-0.15, 0.15], "nice": false, "zero": false}, "axis": {"orient": "left", "title": "Raw EMG", "values": [-0.15,-0.1,-0.05,0,0.05,0.1], "labelExpr": "'' + datum.value", "labelPadding": 17, "titlePadding": 8}}
   }},
  {"data": {"name": "ax"}, "mark": {"type": "point", "opacity": 0},
   "encoding": {
    "x": {"field": "t", "type": "quantitative", "axis": {"orient": "top", "labels": false, "title": null, "values": [-1,-0.5,0,0.5,1,1.5,2,2.5,3]}},
    "y": {"field": "v", "type": "quantitative", "axis": {"orient": "right", "labels": false, "title": null, "values": [-0.15,-0.1,-0.05,0,0.05,0.1]}}
   }}
 ],
 "resolve": {"axis": {"x": "independent", "y": "independent"}}
},
{
 "width": 623, "height": 392,
 "title": "Target Width = 3.3 cm",
 "layer": [
  {"data": {"name": "rawR"}, "mark": {"type": "line", "color": "#262626", "strokeWidth": 1.3, "strokeJoin": "round"},
   "encoding": {
    "x": {"field": "t", "type": "quantitative", "scale": {"domain": [-1, 3], "nice": false, "zero": false}, "axis": {"orient": "bottom", "labels": false, "title": null, "values": [-1,-0.5,0,0.5,1,1.5,2,2.5,3]}},
    "y": {"field": "v", "type": "quantitative", "scale": {"domain": [-0.15, 0.15], "nice": false, "zero": false}, "axis": {"orient": "left", "labels": false, "title": null, "values": [-0.15,-0.1,-0.05,0,0.05,0.1]}}
   }},
  {"data": {"name": "ax"}, "mark": {"type": "point", "opacity": 0},
   "encoding": {
    "x": {"field": "t", "type": "quantitative", "axis": {"orient": "top", "labels": false, "title": null, "values": [-1,-0.5,0,0.5,1,1.5,2,2.5,3]}},
    "y": {"field": "v", "type": "quantitative", "axis": {"orient": "right", "labels": false, "title": null, "values": [-0.15,-0.1,-0.05,0,0.05,0.1]}}
   }}
 ],
 "resolve": {"axis": {"x": "independent", "y": "independent"}}
},
{
 "width": 623, "height": 393,
 "layer": [
  {"data": {"name": "bandL"}, "mark": {"type": "rect", "color": "#e5e5e5"},
   "encoding": {
    "x": {"field": "x1", "type": "quantitative", "scale": {"domain": [-1, 3], "nice": false, "zero": false}, "axis": null},
    "x2": {"field": "x2"},
    "y": {"field": "lo", "type": "quantitative", "scale": {"domain": [-0.02, 0.15], "nice": false, "zero": false}, "axis": null},
    "y2": {"field": "hi"}
   }},
  {"data": {"name": "filtL"}, "mark": {"type": "line", "color": "#262626", "strokeWidth": 1.5, "interpolate": "monotone"},
   "encoding": {
    "x": {"field": "t", "type": "quantitative", "axis": {"orient": "bottom", "title": "Time (s)", "values": [-1,-0.5,0,0.5,1,1.5,2,2.5,3], "labelExpr": "'' + datum.value", "labelPadding": 19, "titlePadding": 8}},
    "y": {"field": "v", "type": "quantitative", "axis": {"orient": "left", "title": "Filtered EMG", "values": [-0.02,0,0.02,0.04,0.06,0.08,0.1,0.12,0.14], "labelExpr": "'' + datum.value", "labelPadding": 17, "titlePadding": 8}}
   }},
  {"data": {"name": "ax"}, "mark": {"type": "point", "opacity": 0},
   "encoding": {
    "x": {"field": "t", "type": "quantitative", "axis": {"orient": "top", "labels": false, "title": null, "values": [-1,-0.5,0,0.5,1,1.5,2,2.5,3]}},
    "y": {"field": "v", "type": "quantitative", "axis": {"orient": "right", "labels": false, "title": null, "values": [-0.02,0,0.02,0.04,0.06,0.08,0.1,0.12,0.14]}}
   }}
 ],
 "resolve": {"axis": {"x": "independent", "y": "independent"}}
},
{
 "width": 623, "height": 393,
 "layer": [
  {"data": {"name": "bandR"}, "mark": {"type": "rect", "color": "#e5e5e5"},
   "encoding": {
    "x": {"field": "x1", "type": "quantitative", "scale": {"domain": [-1, 3], "nice": false, "zero": false}, "axis": null},
    "x2": {"field": "x2"},
    "y": {"field": "lo", "type": "quantitative", "scale": {"domain": [-0.02, 0.15], "nice": false, "zero": false}, "axis": null},
    "y2": {"field": "hi"}
   }},
  {"data": {"name": "filtR"}, "mark": {"type": "line", "color": "#262626", "strokeWidth": 1.5, "interpolate": "monotone"},
   "encoding": {
    "x": {"field": "t", "type": "quantitative", "axis": {"orient": "bottom", "title": "Time (s)", "values": [-1,-0.5,0,0.5,1,1.5,2,2.5,3], "labelExpr": "'' + datum.value", "labelPadding": 19, "titlePadding": 8}},
    "y": {"field": "v", "type": "quantitative", "axis": {"orient": "left", "labels": false, "title": null, "values": [-0.02,0,0.02,0.04,0.06,0.08,0.1,0.12,0.14]}}
   }},
  {"data": {"name": "ax"}, "mark": {"type": "point", "opacity": 0},
   "encoding": {
    "x": {"field": "t", "type": "quantitative", "axis": {"orient": "top", "labels": false, "title": null, "values": [-1,-0.5,0,0.5,1,1.5,2,2.5,3]}},
    "y": {"field": "v", "type": "quantitative", "axis": {"orient": "right", "labels": false, "title": null, "values": [-0.02,0,0.02,0.04,0.06,0.08,0.1,0.12,0.14]}}
   }}
 ],
 "resolve": {"axis": {"x": "independent", "y": "independent"}}
}
]
}
